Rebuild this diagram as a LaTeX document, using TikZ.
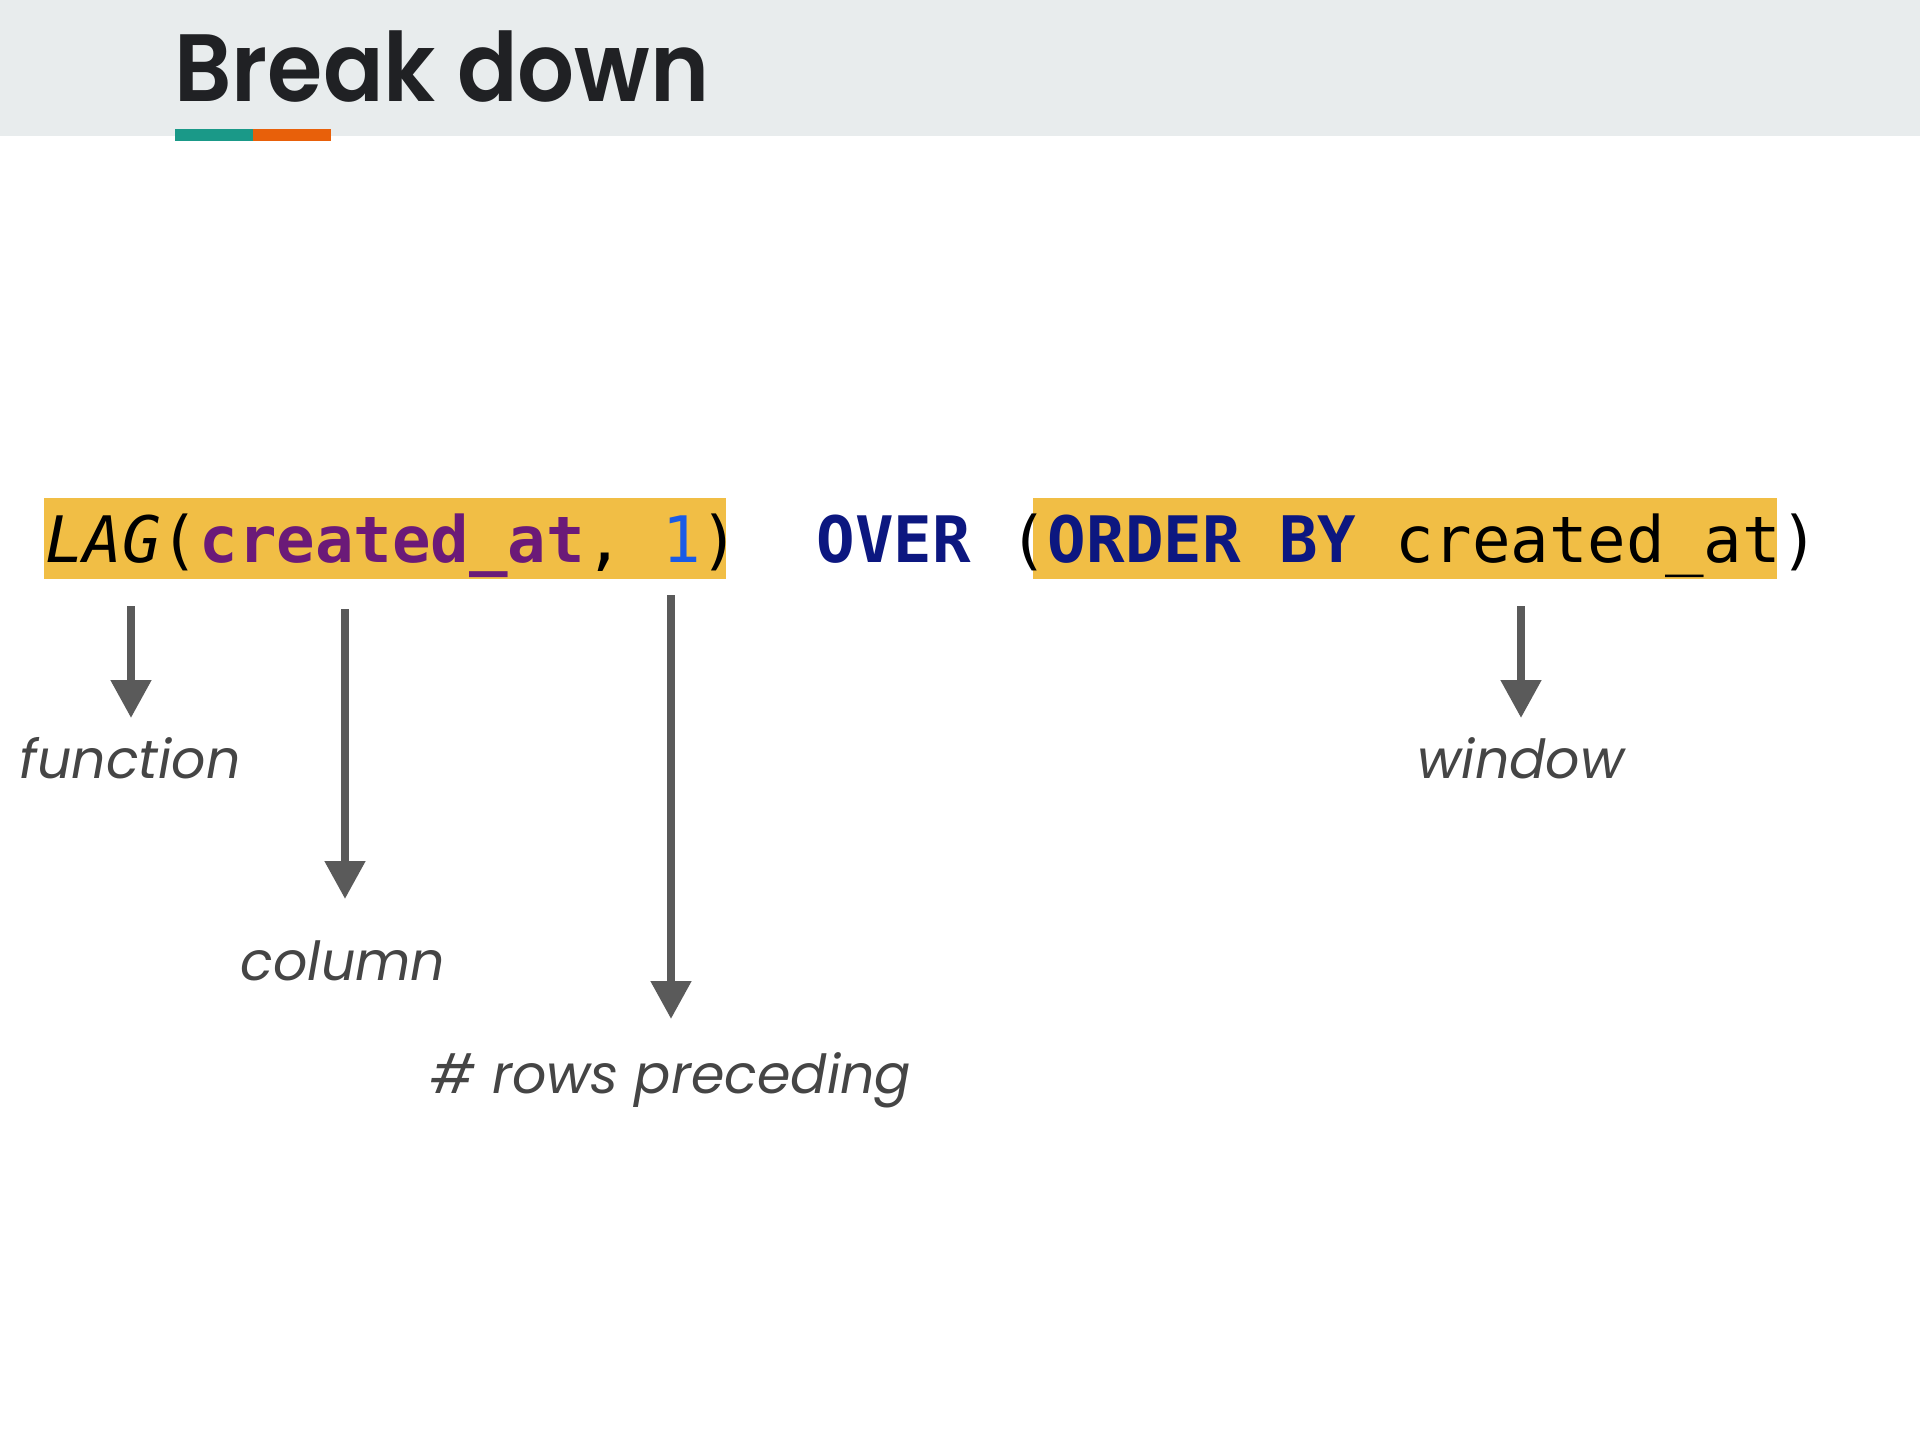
\documentclass[tikz,border=0pt]{standalone}
\usepackage{fontspec}
\usetikzlibrary{arrows.meta}
\setmainfont{Poppins}
\newfontfamily\titlefont{Poppins}[BoldFont={* SemiBold}]
\newfontfamily\codefont{DejaVu Sans Mono}[ItalicFont={DejaVu Sans Mono Oblique},BoldFont={DejaVu Sans Mono Bold}]
\newfontfamily\labelfont{Poppins}
\definecolor{bandgray}{HTML}{E8ECED}
\definecolor{titleblack}{HTML}{202124}
\definecolor{teal}{HTML}{1A9988}
\definecolor{orng}{HTML}{E8600A}
\definecolor{hilite}{HTML}{F1BE45}
\definecolor{purp}{HTML}{6B1A78}
\definecolor{navy}{HTML}{0C1780}
\definecolor{numblue}{HTML}{1A5BE6}
\definecolor{arrowgray}{HTML}{5A5A5A}
\definecolor{labelgray}{HTML}{454545}
\tikzset{
  hlbox/.style={fill=hilite, draw=none},
  pointer/.style={draw=arrowgray, line width=8bp, -{Triangle[width=39bp,length=38bp]}, fill=arrowgray},
  lbl/.style={anchor=base, inner sep=0pt, text=labelgray, font=\labelfont\itshape\fontsize{54}{60}\selectfont},
}
\begin{document}
\begin{tikzpicture}[x=1bp,y=-1bp]
\useasboundingbox (0,0) rectangle (1920,1440);
\fill[white] (0,0) rectangle (1920,1440);
% header
\fill[bandgray] (0,0) rectangle (1920,136);
\node[anchor=base west, inner sep=0pt, text=titleblack, font=\titlefont\bfseries\fontsize{96}{110}\selectfont] (title) at (174,102) {\scalebox{0.935}[1]{Break down}};
\fill[teal] (175,129) rectangle (253,141);
\fill[orng] (253,129) rectangle (331,141);
% highlight boxes
\fill[hlbox] (44,498) rectangle (726,579);
\fill[hlbox] (1033,498) rectangle (1777,579);
% code
\node[anchor=base west, inner sep=0pt, font=\codefont\fontsize{64.3}{70}\selectfont] (code) at (45,562)
 {\textit{LAG}(\textbf{\textcolor{purp}{created\_at}},\ \textcolor{numblue}{1})\ \ \textbf{\textcolor{navy}{OVER}}\ (\textbf{\textcolor{navy}{ORDER\ BY}}\ created\_at)};
% arrows
\coordinate (fs) at (131,606); \coordinate (fe) at (131,718);
\coordinate (cs) at (345,609); \coordinate (ce) at (345,899);
\coordinate (rs) at (671,595); \coordinate (re) at (671,1019);
\coordinate (ws) at (1521,606); \coordinate (we) at (1521,718);
\draw[pointer] (fs) -- (fe);
\draw[pointer] (cs) -- (ce);
\draw[pointer] (rs) -- (re);
\draw[pointer] (ws) -- (we);
% labels
\node[lbl] (function) at (130,778) {function};
\node[lbl] (column) at (343,980) {column};
\node[lbl] (rows) at (671,1093) {\# rows preceding};
\node[lbl] (window) at (1521,778) {window};
\end{tikzpicture}
\end{document}
